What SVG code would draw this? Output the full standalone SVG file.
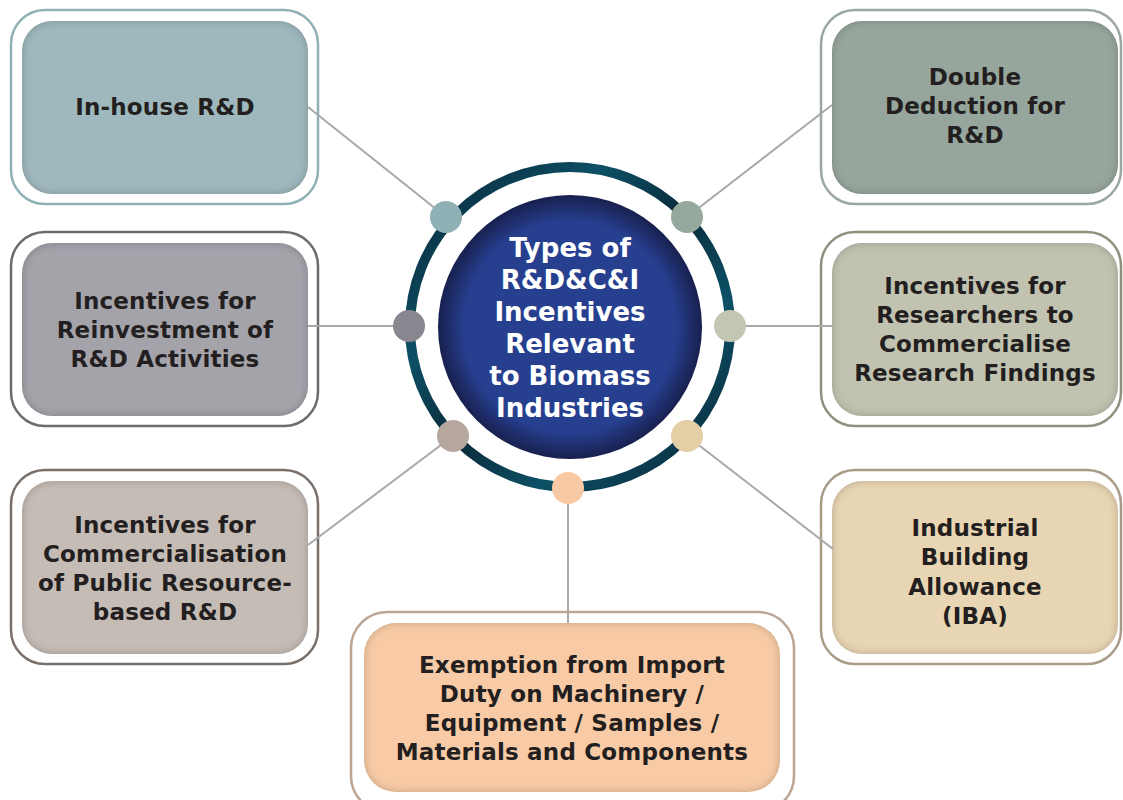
<svg xmlns="http://www.w3.org/2000/svg" width="1123" height="800" viewBox="0 0 1123 800">
<defs>
<style>
.lbl{font-family:"DejaVu Sans","Liberation Sans",sans-serif;font-weight:bold;font-size:23px;letter-spacing:0.2px;fill:#231f20;text-anchor:middle}
.ctr{font-family:"DejaVu Sans","Liberation Sans",sans-serif;font-weight:bold;font-size:26px;fill:#ffffff;text-anchor:middle}
.outer{fill:#ffffff;stroke-width:2.5}
.inner{filter:url(#inset)}
.conn{stroke:#a8a8a8;stroke-width:2;fill:none}
</style>
<filter id="inset" x="-5%" y="-5%" width="110%" height="110%">
<feComponentTransfer in="SourceAlpha" result="inv"><feFuncA type="table" tableValues="1 0"/></feComponentTransfer>
<feGaussianBlur in="inv" stdDeviation="5" result="blur"/>
<feComposite in="blur" in2="SourceAlpha" operator="in" result="sh"/>
<feColorMatrix in="sh" type="matrix" values="0 0 0 0 0  0 0 0 0 0  0 0 0 0 0  0 0 0 0.45 0" result="shc"/>
<feMerge><feMergeNode in="SourceGraphic"/><feMergeNode in="shc"/></feMerge>
</filter>
<radialGradient id="disc" cx="50%" cy="50%" r="50%">
<stop offset="0.8" stop-color="#263f8f"/>
<stop offset="1" stop-color="#18204f"/>
</radialGradient>
<linearGradient id="ring" x1="0" y1="0" x2="1" y2="1">
<stop offset="0" stop-color="#0a2233"/>
<stop offset="0.3" stop-color="#0d5066"/>
<stop offset="0.5" stop-color="#0a2a3a"/>
<stop offset="0.7" stop-color="#0d5066"/>
<stop offset="1" stop-color="#0a2233"/>
</linearGradient>
</defs>
<rect width="1123" height="800" fill="#ffffff"/>

<g id="n1">
<rect class="outer" x="11" y="10" width="307" height="194" rx="34" stroke="#8fb0b4"/>
<rect class="inner" x="22" y="21" width="286" height="173" rx="30" fill="#9fb8bd"/>
<text class="lbl" x="165" y="115">In-house R&amp;D</text>
</g>

<g id="n2">
<rect class="outer" x="821" y="10" width="300" height="194" rx="34" stroke="#9aa89f"/>
<rect class="inner" x="832" y="21" width="286" height="173" rx="30" fill="#97a69c"/>
<text class="lbl" x="975" y="85">Double</text>
<text class="lbl" x="975" y="114">Deduction for</text>
<text class="lbl" x="975" y="143">R&amp;D</text>
</g>

<g id="n3">
<rect class="outer" x="11" y="232" width="307" height="194" rx="34" stroke="#6e6a6e"/>
<rect class="inner" x="22" y="243" width="286" height="173" rx="30" fill="#a5a3aa"/>
<text class="lbl" x="165" y="309">Incentives for</text>
<text class="lbl" x="165" y="338">Reinvestment of</text>
<text class="lbl" x="165" y="367">R&amp;D Activities</text>
</g>

<g id="n4">
<rect class="outer" x="821" y="232" width="300" height="194" rx="34" stroke="#8e917e"/>
<rect class="inner" x="832" y="243" width="286" height="173" rx="30" fill="#c1c3b0"/>
<text class="lbl" x="975" y="294">Incentives for</text>
<text class="lbl" x="975" y="323">Researchers to</text>
<text class="lbl" x="975" y="352">Commercialise</text>
<text class="lbl" x="975" y="381">Research Findings</text>
</g>

<g id="n5">
<rect class="outer" x="11" y="470" width="307" height="194" rx="34" stroke="#7a706b"/>
<rect class="inner" x="22" y="481" width="286" height="173" rx="30" fill="#c6bcb6"/>
<text class="lbl" x="165" y="533">Incentives for</text>
<text class="lbl" x="165" y="562">Commercialisation</text>
<text class="lbl" x="165" y="591">of Public Resource-</text>
<text class="lbl" x="165" y="620">based R&amp;D</text>
</g>

<g id="n6">
<rect class="outer" x="821" y="470" width="300" height="194" rx="34" stroke="#a89c88"/>
<rect class="inner" x="832" y="481" width="286" height="173" rx="30" fill="#e8d5b3"/>
<text class="lbl" x="975" y="536">Industrial</text>
<text class="lbl" x="975" y="565">Building</text>
<text class="lbl" x="975" y="595">Allowance</text>
<text class="lbl" x="975" y="624">(IBA)</text>
</g>

<g id="n7">
<rect class="outer" x="351" y="612" width="443" height="200" rx="36" stroke="#bda594"/>
<rect class="inner" x="364" y="623" width="416" height="169" rx="32" fill="#f8cba6"/>
<text class="lbl" x="572" y="673">Exemption from Import</text>
<text class="lbl" x="572" y="702">Duty on Machinery /</text>
<text class="lbl" x="572" y="731">Equipment / Samples /</text>
<text class="lbl" x="572" y="760">Materials and Components</text>
</g>

<g id="connectors">
<line class="conn" x1="446" y1="217" x2="308" y2="107"/>
<line class="conn" x1="687" y1="217" x2="832" y2="105"/>
<line class="conn" x1="409" y1="326" x2="308" y2="326"/>
<line class="conn" x1="730" y1="326" x2="832" y2="326"/>
<line class="conn" x1="453" y1="436" x2="308" y2="545"/>
<line class="conn" x1="687" y1="436" x2="833" y2="549"/>
<line class="conn" x1="568" y1="488" x2="568" y2="623"/>
</g>

<g id="center">
<circle cx="570" cy="327" r="160" fill="none" stroke="url(#ring)" stroke-width="10"/>
<circle cx="570" cy="327" r="132" fill="url(#disc)"/>
<text class="ctr" x="570" y="257">Types of</text>
<text class="ctr" x="570" y="289">R&amp;D&amp;C&amp;I</text>
<text class="ctr" x="570" y="321">Incentives</text>
<text class="ctr" x="570" y="353">Relevant</text>
<text class="ctr" x="570" y="385">to Biomass</text>
<text class="ctr" x="570" y="417">Industries</text>
</g>

<g id="dots">
<circle cx="446" cy="217" r="16" fill="#8fb0b4"/>
<circle cx="687" cy="217" r="16" fill="#97a89e"/>
<circle cx="409" cy="326" r="16" fill="#8a8690"/>
<circle cx="730" cy="326" r="16" fill="#c4c6b3"/>
<circle cx="453" cy="436" r="16" fill="#b6a79e"/>
<circle cx="687" cy="436" r="16" fill="#e3cea6"/>
<circle cx="568" cy="488" r="16" fill="#f8c9a5"/>
</g>
</svg>
